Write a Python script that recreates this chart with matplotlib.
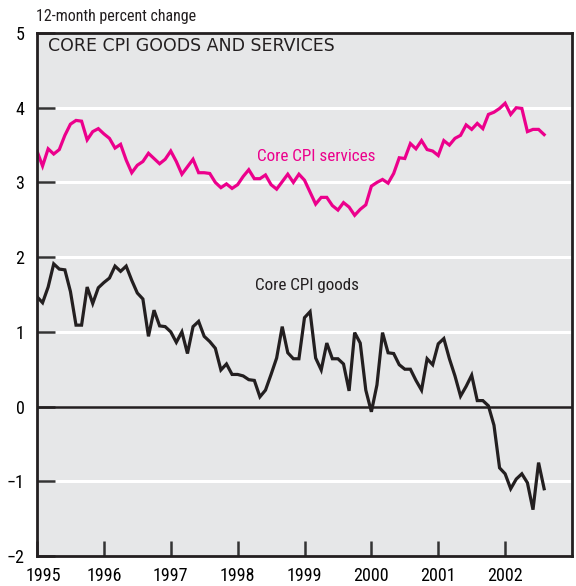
import numpy as np
import pandas as pd
import matplotlib
matplotlib.use('Agg')
import matplotlib.pyplot as plt
import matplotlib.transforms as mtransforms

plt.rcParams['font.family'] = ['Roboto Condensed', 'DejaVu Sans']

# monthly 12-month percent changes, Jan 1995 - Aug 2002
months = pd.date_range('1995-01-01', periods=92, freq='MS')
services = [3.42, 3.22, 3.45, 3.38, 3.44, 3.63, 3.78, 3.83, 3.82, 3.57, 3.68, 3.72,
            3.65, 3.59, 3.46, 3.51, 3.30, 3.13, 3.23, 3.28, 3.39, 3.32, 3.25, 3.31,
            3.42, 3.28, 3.11, 3.21, 3.31, 3.13, 3.13, 3.12, 3.00, 2.93, 2.98, 2.92,
            2.97, 3.08, 3.17, 3.05, 3.05, 3.10, 2.97, 2.91, 3.01, 3.11, 3.00, 3.11,
            3.03, 2.87, 2.71, 2.80, 2.80, 2.69, 2.63, 2.73, 2.67, 2.56, 2.64, 2.70,
            2.95, 3.00, 3.04, 2.99, 3.12, 3.33, 3.32, 3.52, 3.45, 3.56, 3.44, 3.42,
            3.36, 3.56, 3.50, 3.59, 3.63, 3.77, 3.71, 3.79, 3.72, 3.91, 3.94, 3.99,
            4.06, 3.91, 4.00, 3.99, 3.68, 3.71, 3.71, 3.64]
goods = [1.47, 1.39, 1.60, 1.91, 1.84, 1.83, 1.54, 1.09, 1.09, 1.60, 1.38, 1.59,
         1.66, 1.72, 1.88, 1.81, 1.88, 1.69, 1.52, 1.44, 0.94, 1.29, 1.08, 1.07,
         1.00, 0.86, 1.00, 0.71, 1.07, 1.14, 0.94, 0.87, 0.78, 0.49, 0.57, 0.43,
         0.43, 0.41, 0.36, 0.35, 0.13, 0.22, 0.43, 0.65, 1.07, 0.72, 0.64, 0.64,
         1.19, 1.27, 0.65, 0.49, 0.85, 0.64, 0.64, 0.57, 0.21, 0.99, 0.85, 0.22,
         -0.07, 0.29, 0.99, 0.72, 0.71, 0.56, 0.50, 0.50, 0.35, 0.22, 0.64, 0.56,
         0.84, 0.91, 0.64, 0.41, 0.14, 0.27, 0.42, 0.08, 0.08, 0.01, -0.25, -0.82,
         -0.90, -1.10, -0.97, -0.90, -1.02, -1.38, -0.75, -1.10]

year_ticks = [1995, 1996, 1997, 1998, 1999, 2000, 2001, 2002]
y_ticks = [-2, -1, 0, 1, 2, 3, 4, 5]
y_labels = ['\u22122', '\u22121', '0', '1', '2', '3', '4', '5']

x = months.year + (months.month - 1) / 12.0

fig = plt.figure(figsize=(5.76, 5.86), dpi=100)
ax = fig.add_axes([37 / 576, 30 / 586, 535 / 576, 523 / 586])
ax.set_facecolor('#e6e7e8')
ax.set_xlim(1995, 2003)
ax.set_ylim(-2, 5)

for yv in [-1, 1, 2, 3, 4]:
    ax.axhline(yv, color='white', lw=2.2, zorder=1)
ax.axhline(0, color='#231f20', lw=1.8, zorder=2)

ax.plot(x, services, color='#ec008c', lw=2.3, zorder=3, solid_joinstyle='miter')
ax.plot(x, goods, color='#231f20', lw=2.3, zorder=3, solid_joinstyle='miter')

ax.text(1995.17, 4.82, 'CORE CPI GOODS AND SERVICES', fontsize=12.5,
        family=['DejaVu Sans'], color='#231f20', va='center')
ax.text(1999.17, 3.35, 'Core CPI services', fontsize=12.3, color='#ec008c',
        ha='center', va='center')
ax.text(1999.03, 1.62, 'Core CPI goods', fontsize=12.3, color='#231f20',
        ha='center', va='center')

ax.set_xticks(year_ticks)
ax.set_xticklabels([str(y) for y in year_ticks])
ax.set_yticks(y_ticks)
ax.set_yticklabels(y_labels)
ax.tick_params(axis='y', direction='in', length=13, width=1.8, color='#333333',
               labelsize=13, pad=9)
ax.tick_params(axis='x', direction='in', length=11, width=1.8, color='#333333',
               labelsize=13, pad=8)
off = mtransforms.ScaledTranslation(6 / 100, 0, fig.dpi_scale_trans)
lab0 = ax.get_xticklabels()[0]
lab0.set_transform(lab0.get_transform() + off)

for s in ax.spines.values():
    s.set_linewidth(2)
    s.set_color('#231f20')
    s.set_zorder(4)

fig.text(36 / 576, 1 - 17 / 586, '12-month percent change', fontsize=11.5,
         va='center', ha='left', color='#231f20')

fig.savefig('out.png', dpi=100)
